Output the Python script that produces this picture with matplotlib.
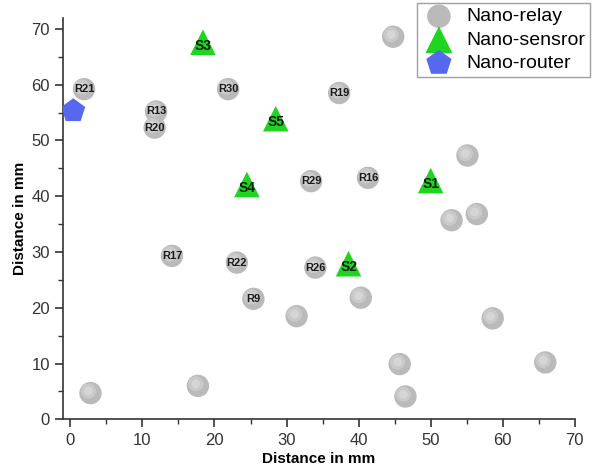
import numpy as np
import matplotlib.pyplot as plt
import matplotlib.transforms as mtransforms

plt.rcParams['font.family'] = ['Liberation Sans', 'DejaVu Sans']

# nano-relay positions (label '' = unlabeled)
relay_x = [1.9, 11.9, 11.7, 21.9, 37.3, 44.8, 33.4, 41.3, 55.1, 52.9, 56.4,
           14.1, 23.1, 25.4, 31.4, 34.0, 40.3, 58.6, 45.7, 46.5, 65.9, 2.8, 17.7]
relay_y = [59.2, 55.2, 52.3, 59.2, 58.5, 68.6, 42.7, 43.3, 47.3, 35.7, 36.8,
           29.3, 28.1, 21.6, 18.5, 27.2, 21.8, 18.1, 9.9, 4.1, 10.2, 4.7, 6.0]
relay_lab = ['R21', 'R13', 'R20', 'R30', 'R19', '', 'R29', 'R16', '', '', '',
             'R17', 'R22', 'R9', '', 'R26', '', '', '', '', '', '', '']

# nano-sensors
sens_x = [50.0, 38.6, 18.4, 24.5, 28.5]
sens_y = [42.8, 27.9, 67.6, 42.1, 53.9]
sens_lab = ['S1', 'S2', 'S3', 'S4', 'S5']

# nano-router
rout_x = [0.4]
rout_y = [55.3]

fig = plt.figure(figsize=(6.07, 4.73), dpi=100)
ax = fig.add_axes([0.104, 0.1135, 0.843, 0.849])

ax.scatter(relay_x, relay_y, s=260, c='#bababa', edgecolors='none', zorder=3,
           label='Nano-relay')
# little highlight to get the sphere look
shift = mtransforms.ScaledTranslation(-1.5 / 72, 1.5 / 72, fig.dpi_scale_trans)
ax.scatter(relay_x, relay_y, s=120, c='#c9c9c9', edgecolors='none', zorder=3,
           transform=ax.transData + shift)
ax.scatter(relay_x, relay_y, s=40, c='#d6d6d6', edgecolors='none', zorder=3,
           transform=ax.transData + shift)
ax.scatter(sens_x, sens_y, s=340, marker='^', c='#1fd51f', edgecolors='none',
           zorder=4, label='Nano-sensror')
ax.scatter(rout_x, rout_y, s=330, marker='p', c='#5668f0', edgecolors='none',
           zorder=4, label='Nano-router')

for x, y, t in zip(relay_x, relay_y, relay_lab):
    if t:
        ax.text(x, y, t, fontsize=8, fontweight='bold', color='#1a1a1a',
                ha='center', va='center', zorder=5)
for x, y, t in zip(sens_x, sens_y, sens_lab):
    ax.text(x, y - 0.6, t, fontsize=10, fontweight='bold', color='#0a200a',
            ha='center', va='center', zorder=5)

ax.set_xlim(-1, 70)
ax.set_ylim(0, 72)
ax.set_xticks(np.arange(0, 71, 10))
ax.set_yticks(np.arange(0, 71, 10))
ax.set_xticks(np.arange(5, 70, 10), minor=True)
ax.set_yticks(np.arange(5, 71, 10), minor=True)
ax.spines['top'].set_visible(False)
ax.spines['right'].set_visible(False)
for s in ['left', 'bottom']:
    ax.spines[s].set_linewidth(1.2)
    ax.spines[s].set_color('#333333')
ax.tick_params(which='major', direction='out', length=6, width=1.2,
               labelsize=12, colors='#333333')
ax.tick_params(which='minor', direction='out', length=3.5, width=1.0,
               colors='#333333')
ax.set_xlabel('Distance in mm', fontsize=11, fontweight='bold', labelpad=3)
ax.set_ylabel('Distance in mm', fontsize=11, fontweight='bold', labelpad=3)

leg = fig.legend(loc='upper right', bbox_to_anchor=(0.972, 0.994),
                 fontsize=14, frameon=True, fancybox=False, markerscale=1.05,
                 handletextpad=0.5, borderpad=0.25, labelspacing=0.3,
                 handlelength=1.8, borderaxespad=0)
leg.get_frame().set_edgecolor('#888888')
leg.get_frame().set_linewidth(1.0)

fig.savefig('out.png', dpi=100)
